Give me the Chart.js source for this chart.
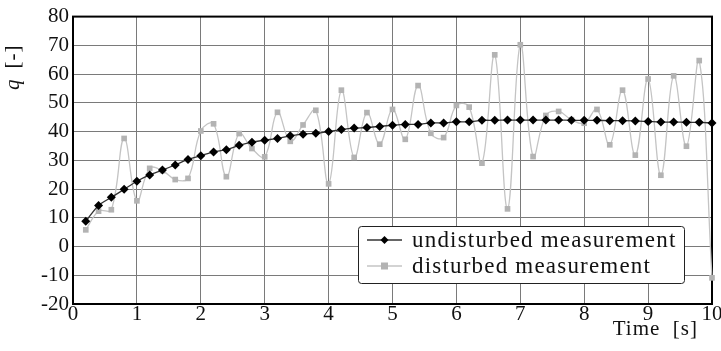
<!DOCTYPE html>
<html>
<head>
<meta charset="utf-8">
<script src="https://cdn.jsdelivr.net/npm/chart.js@4"></script>
<style>
  html, body { margin: 0; padding: 0; background: #fff; }
  #wrap { width: 721px; height: 351px; }
</style>
</head>
<body>
<div id="wrap"><canvas id="chart" width="721" height="351"></canvas></div>
<script>
// time axis, 0.2 s steps
const times = [0.2, 0.4, 0.6, 0.8, 1.0, 1.2, 1.4, 1.6, 1.8, 2.0,
    2.2, 2.4, 2.6, 2.8, 3.0, 3.2, 3.4, 3.6, 3.8, 4.0,
    4.2, 4.4, 4.6, 4.8, 5.0, 5.2, 5.4, 5.6, 5.8, 6.0,
    6.2, 6.4, 6.6, 6.8, 7.0, 7.2, 7.4, 7.6, 7.8, 8.0,
    8.2, 8.4, 8.6, 8.8, 9.0, 9.2, 9.4, 9.6, 9.8, 10.0];

const undisturbed = [8.8, 14.3, 17.1, 19.9, 22.7, 24.9, 26.6, 28.4, 30.3, 31.6,
    32.9, 33.7, 35.2, 36.3, 37.0, 37.6, 38.5, 39.1, 39.4, 40.0,
    40.7, 41.2, 41.4, 41.8, 42.2, 42.5, 42.5, 43.0, 43.0, 43.4,
    43.4, 43.9, 43.9, 44.0, 44.0, 44.0, 44.0, 44.0, 43.9, 43.9,
    43.9, 43.8, 43.8, 43.7, 43.5, 43.3, 43.3, 43.2, 43.2, 43.0];

const disturbed = [5.8, 12.3, 12.8, 37.6, 15.9, 27.2, 26.4, 23.3, 23.7, 40.2,
    42.7, 24.3, 39.3, 34.1, 31.2, 46.7, 36.6, 42.3, 47.4, 21.8,
    54.4, 31.0, 46.6, 35.6, 47.7, 37.3, 56.0, 39.4, 37.9, 49.1,
    48.5, 29.0, 66.7, 13.1, 70.2, 31.3, 45.6, 47.0, 44.1, 42.9,
    47.7, 35.4, 54.4, 31.8, 58.3, 24.8, 59.4, 34.9, 64.7, -10.9];

const seriesNames = ['undisturbed measurement', 'disturbed measurement'];
const xTicks = [0, 1, 2, 3, 4, 5, 6, 7, 8, 9, 10];
const yTicks = [-20, -10, 0, 10, 20, 30, 40, 50, 60, 70, 80];

const SERIF = "'Liberation Serif', 'Times New Roman', serif";

function pts(ys) {
    return ys.map(function (y, i) { return { x: times[i], y: y }; });
}

// frame, axis titles and the boxed legend
const decorPlugin = {
    id: 'decor',
    beforeDatasetsDraw(chart) {
        const ctx = chart.ctx;
        const a = chart.chartArea;
        ctx.save();
        ctx.strokeStyle = '#000';
        ctx.lineWidth = 2;
        ctx.strokeRect(a.left, a.top, a.right - a.left, a.bottom - a.top);
        ctx.restore();
    },
    afterDraw(chart) {
        const ctx = chart.ctx;
        ctx.save();
        ctx.fillStyle = '#111';
        ctx.textBaseline = 'middle';

        // x title
        ctx.font = '21px ' + SERIF;
        ctx.textAlign = 'right';
        ctx.letterSpacing = '1px';
        ctx.fillText('Time  [s]', 698, 329);

        // y title (rotated)
        ctx.translate(13, 66);
        ctx.rotate(-Math.PI / 2);
        ctx.textAlign = 'left';
        ctx.font = 'italic 21px ' + SERIF;
        const qw = ctx.measureText('q').width;
        ctx.fillText('q', -24, 0);
        ctx.font = '21px ' + SERIF;
        ctx.fillText('[-]', -24 + qw + 10, 0);
        ctx.setTransform(1, 0, 0, 1, 0, 0);

        // legend box
        const bx = 358, by = 226, bw = 326, bh = 57;
        ctx.fillStyle = '#fff';
        ctx.strokeStyle = '#222';
        ctx.lineWidth = 1;
        ctx.beginPath();
        ctx.roundRect(bx + 0.5, by + 0.5, bw, bh, 3);
        ctx.fill();
        ctx.stroke();

        const rows = [240, 266];
        chart.data.datasets.forEach(function (ds, i) {
            const y = rows[i];
            ctx.strokeStyle = ds.borderColor;
            ctx.lineWidth = ds.borderWidth;
            ctx.beginPath();
            ctx.moveTo(367, y);
            ctx.lineTo(402, y);
            ctx.stroke();
            ctx.fillStyle = ds.pointBackgroundColor;
            if (i === 0) {
                ctx.beginPath();
                ctx.moveTo(384.5, y - 4);
                ctx.lineTo(388.5, y);
                ctx.lineTo(384.5, y + 4);
                ctx.lineTo(380.5, y);
                ctx.closePath();
                ctx.fill();
            } else {
                ctx.fillRect(381, y - 3.5, 7, 7);
            }
            ctx.fillStyle = '#111';
            ctx.textAlign = 'left';
            ctx.font = '23px ' + SERIF;
            ctx.letterSpacing = '1.2px';
            ctx.fillText(ds.label, 412, y + 1);
        });
        ctx.restore();
    }
};

function draw() {
    new Chart(document.getElementById('chart'), {
        type: 'line',
        data: {
            datasets: [
                {
                    label: seriesNames[0],
                    data: pts(undisturbed),
                    borderColor: '#333',
                    borderWidth: 1.3,
                    pointStyle: 'rectRot',
                    pointRadius: 4.5,
                    pointBackgroundColor: '#000',
                    pointBorderColor: '#000',
                    pointBorderWidth: 0,
                    tension: 0.3,
                    clip: false,
                    order: 0
                },
                {
                    label: seriesNames[1],
                    data: pts(disturbed),
                    borderColor: '#c4c4c4',
                    borderWidth: 1.3,
                    pointStyle: 'rect',
                    pointRadius: 4,
                    pointBackgroundColor: '#b3b3b3',
                    pointBorderColor: '#b3b3b3',
                    pointBorderWidth: 0,
                    tension: 0.4,
                    clip: false,
                    order: 1
                }
            ]
        },
        options: {
            responsive: false,
            animation: false,
            layout: { padding: { left: 0, right: 9, top: 15, bottom: 0 } },
            plugins: {
                legend: { display: false },
                tooltip: { enabled: false }
            },
            scales: {
                x: {
                    type: 'linear',
                    min: 0,
                    max: 10,
                    afterBuildTicks: function (s) { s.ticks = xTicks.map(function (v) { return { value: v }; }); },
                    afterFit: function (s) { s.height = 47; },
                    grid: { color: '#7a7a7a', lineWidth: 1, drawTicks: false },
                    border: { display: false },
                    ticks: {
                        color: '#111',
                        padding: -2,
                        maxRotation: 0,
                        font: { family: SERIF, size: 21 }
                    }
                },
                y: {
                    min: -20,
                    max: 80,
                    afterBuildTicks: function (s) { s.ticks = yTicks.map(function (v) { return { value: v }; }); },
                    afterFit: function (s) { s.width = 73; },
                    grid: { color: '#7a7a7a', lineWidth: 1, drawTicks: false },
                    border: { display: false },
                    ticks: {
                        color: '#111',
                        padding: 4,
                        font: { family: SERIF, size: 21 }
                    }
                }
            }
        },
        plugins: [decorPlugin]
    });
}

Promise.all([
    document.fonts.load("21px 'Liberation Serif'"),
    document.fonts.load("italic 21px 'Liberation Serif'")
]).then(draw, draw);
</script>
</body>
</html>
